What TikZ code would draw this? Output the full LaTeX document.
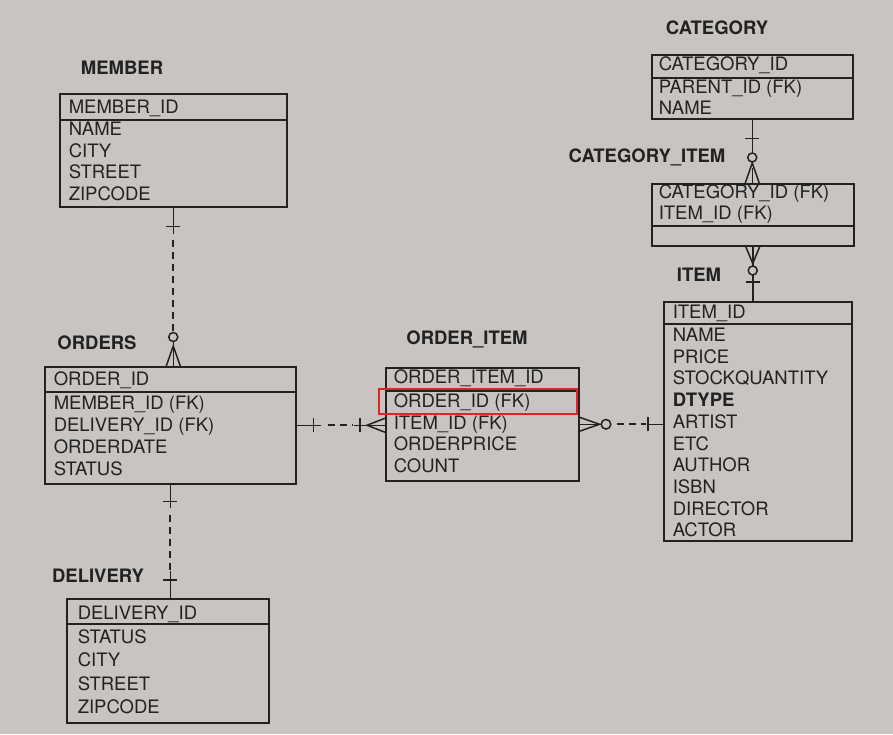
\documentclass[tikz,border=0pt]{standalone}
\usepackage{fontspec}
\setmainfont{TeX Gyre Heros}
\definecolor{paper}{RGB}{199,196,193}
\definecolor{ink}{RGB}{34,34,34}
\definecolor{markred}{RGB}{228,32,40}
\usetikzlibrary{positioning}

\begin{document}
\begin{tikzpicture}[x=1pt, y=-1pt, line width=1.5pt, draw=ink,
    entity/.style={draw, rectangle, inner sep=0pt, anchor=north west},
    row/.style={anchor=west, inner sep=0pt, text height=13pt, text depth=0pt,
        font=\fontsize{18.5}{20}\selectfont, text=ink},
    title/.style={inner sep=0pt, font=\fontsize{18.5}{20}\selectfont\bfseries, text=ink},
    dashline/.style={line width=1.8pt, dash pattern=on 7pt off 5pt}]

    % Page
    \fill[paper] (0,0) rectangle (893,734);
    \useasboundingbox (0,0) rectangle (893,734);

    % MEMBER
    \node[title] (memberlbl) at (122,68) {MEMBER};
    \node[entity, minimum width=227pt, minimum height=113pt] (member) at (59,93) {};
    \draw (member.west |- 0,120) -- (member.east |- 0,120);
    \node[row] (m0) at (68,107) {MEMBER\_ID};
    \foreach \t [count=\i] in {NAME,CITY,STREET,ZIPCODE}
        \node[row] (m\i) at (68,{107+21.8*\i}) {\t};

    % ORDERS
    \node[title] (orderslbl) at (97,343) {ORDERS};
    \node[entity, minimum width=251pt, minimum height=117pt] (orders) at (44,366) {};
    \draw (orders.west |- 0,392) -- (orders.east |- 0,392);
    \node[row] (o0) at (53,379) {ORDER\_ID};
    \foreach \t [count=\i] in {MEMBER\_ID (FK),DELIVERY\_ID (FK),ORDERDATE,STATUS}
        \node[row] (o\i) at (53,{381+22*\i}) {\t};

    % DELIVERY
    \node[title] (deliverylbl) at (98,576) {DELIVERY};
    \node[entity, minimum width=202pt, minimum height=124pt] (delivery) at (66,598) {};
    \draw (delivery.west |- 0,624) -- (delivery.east |- 0,624);
    \node[row] (d0) at (77,613) {DELIVERY\_ID};
    \foreach \t [count=\i] in {STATUS,CITY,STREET,ZIPCODE}
        \node[row] (d\i) at (77,{614+23.2*\i}) {\t};

    % ORDER_ITEM
    \node[title] (orderitemlbl) at (467,339) {ORDER\_ITEM};
    \node[entity, minimum width=193pt, minimum height=113pt] (orderitem) at (385,367) {};
    \draw (orderitem.west |- 0,391) -- (orderitem.east |- 0,391);
    \node[row] (oi0) at (393,377) {ORDER\_ITEM\_ID};
    \foreach \t [count=\i] in {ORDER\_ID (FK),ITEM\_ID (FK),ORDERPRICE,COUNT}
        \node[row] (oi\i) at (393,{379+21.8*\i}) {\t};

    % CATEGORY
    \node[title] (categorylbl) at (717,28) {CATEGORY};
    \node[entity, minimum width=201pt, minimum height=64pt] (category) at (651,54) {};
    \draw (category.west |- 0,78) -- (category.east |- 0,78);
    \node[row] (c0) at (658,64) {CATEGORY\_ID};
    \foreach \t [count=\i] in {PARENT\_ID (FK),NAME}
        \node[row] (c\i) at (658,{67+20.3*\i}) {\t};

    % CATEGORY_ITEM
    \node[title] (catitemlbl) at (647,157) {CATEGORY\_ITEM};
    \node[entity, minimum width=202pt, minimum height=62pt] (catitem) at (651,183) {};
    \draw (catitem.west |- 0,226) -- (catitem.east |- 0,226);
    \node[row] (ci1) at (658,192) {CATEGORY\_ID (FK)};
    \node[row] (ci2) at (658,213) {ITEM\_ID (FK)};

    % ITEM
    \node[title] (itemlbl) at (699,275) {ITEM};
    \node[entity, minimum width=188pt, minimum height=239pt] (item) at (663,301) {};
    \draw (item.west |- 0,324) -- (item.east |- 0,324);
    \node[row] (i0) at (672,312) {ITEM\_ID};
    \foreach \t [count=\i] in {NAME,PRICE,STOCKQUANTITY,\textbf{DTYPE},ARTIST,ETC,AUTHOR,ISBN,DIRECTOR,ACTOR}
        \node[row] (i\i) at (672,{313.3+21.7*\i}) {\t};

    % Highlight
    \node[entity, draw=markred, line width=1.8pt, minimum width=198pt, minimum height=25pt] (mark) at (378,388) {};

    % MEMBER -- ORDERS
    \coordinate (mo) at (member.south |- orders.north);
    \draw (member.south) -- ++(0,26);
    \draw[dashline] (member.south) ++(0,32) -- ([yshift=34pt]mo);
    \draw (member.south) ++(-7,19) -- ++(14,0);
    \draw[fill=paper] (mo) ++(0,-29) circle (4.5);
    \draw (mo) ++(0,-24.5) -- (mo);
    \draw (mo) ++(-7,0) -- ++(7,-20) -- ++(7,20);

    % ORDERS -- ORDER_ITEM
    \coordinate (ooi) at (orders.east -| orderitem.west);
    \draw (orders.east) -- ++(24,0);
    \draw[dashline] (orders.east) ++(31,0) -- ([xshift=-33pt]ooi);
    \draw ([xshift=-31pt]ooi) -- (ooi);
    \draw (orders.east) ++(17,-7) -- ++(0,14);
    \draw (ooi) ++(-25,-7) -- ++(0,14);
    \draw (ooi) ++(0,-7) -- ++(-18,7) -- ++(18,7);

    % ORDER_ITEM -- ITEM
    \coordinate (oit) at (orderitem.east -| item.west);
    \draw (orderitem.east) ++(0,-7) -- ++(20,7) -- ++(-20,7);
    \draw (orderitem.east) -- ++(21,0);
    \draw[fill=paper] (orderitem.east) ++(26.5,0) circle (4.8);
    \draw[dashline] (orderitem.east) ++(37,0) -- ([xshift=-17pt]oit);
    \draw ([xshift=-16pt]oit) -- (oit);
    \draw (oit) ++(-15,-7) -- ++(0,14);

    % CATEGORY -- CATEGORY_ITEM
    \coordinate (cci) at (category.south |- catitem.north);
    \draw (category.south) -- ([yshift=-33.5pt]category.south);
    \draw (category.south) ++(-7,19) -- ++(14,0);
    \draw[fill=paper] (category.south) ++(0,38) circle (4.5);
    \draw (cci) ++(0,-15.5) -- (cci);
    \draw (cci) ++(-7,0) -- ++(7,-20) -- ++(7,20);

    % CATEGORY_ITEM -- ITEM
    \coordinate (cit) at (catitem.south |- item.north);
    \draw (catitem.south) ++(-7,0) -- ++(7,17) -- ++(7,-17);
    \draw (catitem.south) -- ++(0,19.5);
    \draw[fill=paper] (catitem.south) ++(0,24) circle (4.5);
    \draw (catitem.south) ++(0,28.5) -- (cit);
    \draw (cit) ++(-7,-19) -- ++(14,0);

    % ORDERS -- DELIVERY
    \coordinate (od) at (orders.south |- delivery.north);
    \draw (orders.south) -- ++(0,23);
    \draw[dashline] (orders.south) ++(0,30) -- ([yshift=28pt]od);
    \draw ([yshift=27pt]od) -- (od);
    \draw (orders.south) ++(-7,17) -- ++(14,0);
    \draw (od) ++(-7,-18) -- ++(14,0);
\end{tikzpicture}
\end{document}
